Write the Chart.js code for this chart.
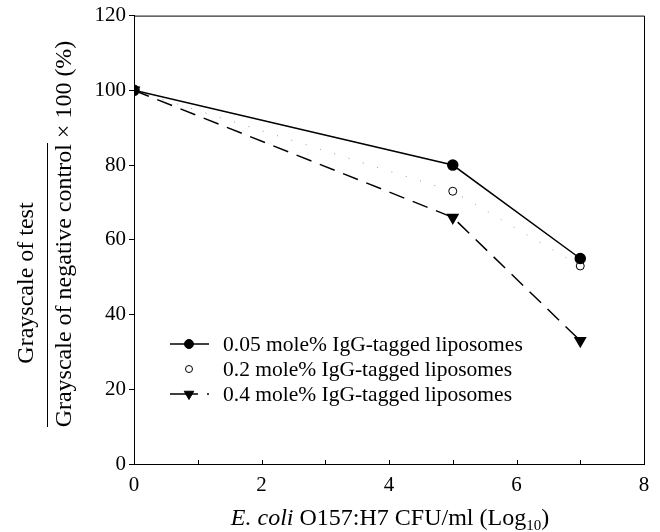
<!DOCTYPE html>
<html lang="en">
<head>
	<meta charset="UTF-8">
	<title>IgG-tagged liposomes</title>
	<style>
		body {
			margin: 0;
			background-color: white;
		}
	</style>
	<script src="https://cdn.jsdelivr.net/npm/chart.js"></script>
</head>
<body>
<canvas id="chart" width="660" height="532"></canvas>
<script>
	// E. coli O157:H7 CFU/ml (Log10)
	const cfuLog = [0, 5, 7];
	const igg005 = [100, 80, 55];
	const igg02 = [100, 73, 53];
	const igg04 = [100, 66, 33];
	const seriesNames = [
		'0.05 mole% IgG-tagged liposomes',
		'0.2 mole% IgG-tagged liposomes',
		'0.4 mole% IgG-tagged liposomes'
	];
	const xTickValues = [0, 2, 4, 6, 8];
	const yTickValues = [0, 20, 40, 60, 80, 100, 120];

	const serif = "'Liberation Serif', 'Times New Roman', serif";

	function points(ys) {
		return cfuLog.map((x, i) => ({ x: x, y: ys[i] }));
	}

	// рамка, насечки, подписи осей и легенда рисуются вручную
	const extras = {
		id: 'extras',
		afterDraw(chart) {
			const ctx = chart.ctx;
			const area = chart.chartArea;
			const xs = chart.scales.x;
			ctx.save();
			ctx.strokeStyle = '#000';
			ctx.lineWidth = 1;
			ctx.beginPath();
			ctx.moveTo(area.left, area.top + 0.5);
			ctx.lineTo(area.right + 0.5, area.top + 0.5);
			ctx.lineTo(area.right + 0.5, area.bottom);
			ctx.stroke();

			// насечки оси X внутрь
			for (let v = 1; v < 8; v++) {
				const px = Math.round(xs.getPixelForValue(v)) + 0.5;
				ctx.beginPath();
				ctx.moveTo(px, area.bottom);
				ctx.lineTo(px, area.bottom - 4);
				ctx.stroke();
			}

			// подпись оси X
			ctx.fillStyle = '#000';
			ctx.textBaseline = 'alphabetic';
			const parts = [
				{ t: 'E. coli', f: 'italic 24px ' + serif, dy: 0 },
				{ t: ' O157:H7 CFU/ml (Log', f: '24px ' + serif, dy: 0 },
				{ t: '10', f: '15px ' + serif, dy: 5 },
				{ t: ')', f: '24px ' + serif, dy: 0 }
			];
			let total = 0;
			parts.forEach(p => { ctx.font = p.f; total += ctx.measureText(p.t).width; });
			let cx = 390 - total / 2;
			parts.forEach(p => {
				ctx.font = p.f;
				ctx.textAlign = 'left';
				ctx.fillText(p.t, cx, 525 + p.dy);
				cx += ctx.measureText(p.t).width;
			});

			// подпись оси Y в виде дроби
			ctx.save();
			ctx.rotate(-Math.PI / 2);
			ctx.font = '24px ' + serif;
			ctx.textAlign = 'center';
			ctx.textBaseline = 'middle';
			ctx.fillText('Grayscale of test', -283, 27);
			ctx.fillText('Grayscale of negative control \u00d7 100 (%)', -234, 65);
			ctx.restore();
			ctx.beginPath();
			ctx.moveTo(47.5, 143);
			ctx.lineTo(47.5, 427);
			ctx.stroke();

			// легенда
			const rows = [344, 369, 394];
			chart.data.datasets.forEach((ds, i) => {
				const y = rows[i];
				if (i !== 1) {
					ctx.save();
					ctx.strokeStyle = '#000';
					ctx.lineWidth = 1.5;
					ctx.setLineDash(i === 2 ? [28, 9] : []);
					ctx.beginPath();
					ctx.moveTo(170, y);
					ctx.lineTo(209, y);
					ctx.stroke();
					ctx.restore();
				}
				ctx.save();
				ctx.lineWidth = 1;
				ctx.fillStyle = ds.pointBackgroundColor;
				ctx.strokeStyle = ds.pointBorderColor;
				Chart.helpers.drawPoint(ctx, {
					pointStyle: ds.pointStyle,
					rotation: ds.pointRotation || 0,
					radius: ds.pointRadius - 0.5,
					borderWidth: 1
				}, 189, y);
				ctx.restore();
				ctx.font = '21.5px ' + serif;
				ctx.textAlign = 'left';
				ctx.textBaseline = 'middle';
				ctx.fillStyle = '#000';
				ctx.fillText(seriesNames[i], 223, y + 1);
			});
			ctx.restore();
		}
	};

	const chart = new Chart(document.getElementById('chart'), {
		type: 'scatter',
		data: {
			datasets: [
				{
					label: seriesNames[0],
					data: points(igg005),
					showLine: true,
					borderColor: '#000',
					borderWidth: 1.5,
					pointStyle: 'circle',
					pointRadius: 5,
					pointBackgroundColor: '#000',
					pointBorderColor: '#000',
					order: 1
				},
				{
					label: seriesNames[1],
					data: points(igg02),
					showLine: true,
					borderColor: '#999',
					borderWidth: 1,
					borderDash: [1, 14],
					pointStyle: 'circle',
					pointRadius: 4,
					pointBackgroundColor: '#fff',
					pointBorderColor: '#000',
					pointBorderWidth: 1,
					order: 2
				},
				{
					label: seriesNames[2],
					data: points(igg04),
					showLine: true,
					borderColor: '#000',
					borderWidth: 1.5,
					borderDash: [16, 9],
					pointStyle: 'triangle',
					pointRotation: 180,
					pointRadius: 6,
					pointBackgroundColor: '#000',
					pointBorderColor: '#000',
					order: 3
				}
			]
		},
		options: {
			responsive: false,
			animation: false,
			layout: { padding: { top: 15, right: 16, left: 0, bottom: 0 } },
			plugins: {
				legend: { display: false },
				tooltip: { enabled: false }
			},
			scales: {
				x: {
					type: 'linear',
					min: 0,
					max: 8,
					afterBuildTicks: scale => {
						scale.ticks = xTickValues.map(v => ({ value: v }));
					},
					afterFit: scale => { scale.height = 68; },
					grid: { display: false },
					border: { display: true, color: '#000', width: 1 },
					ticks: {
						color: '#000',
						padding: 1,
						font: { family: serif, size: 21 }
					}
				},
				y: {
					min: 0,
					max: 120,
					afterBuildTicks: scale => {
						scale.ticks = yTickValues.map(v => ({ value: v }));
					},
					afterFit: scale => { scale.width = 134; },
					grid: { drawOnChartArea: false, tickLength: 5, color: '#000' },
					border: { display: true, color: '#000', width: 1 },
					ticks: {
						color: '#000',
						padding: 3,
						font: { family: serif, size: 21 }
					}
				}
			}
		},
		plugins: [extras]
	});
</script>
</body>
</html>
